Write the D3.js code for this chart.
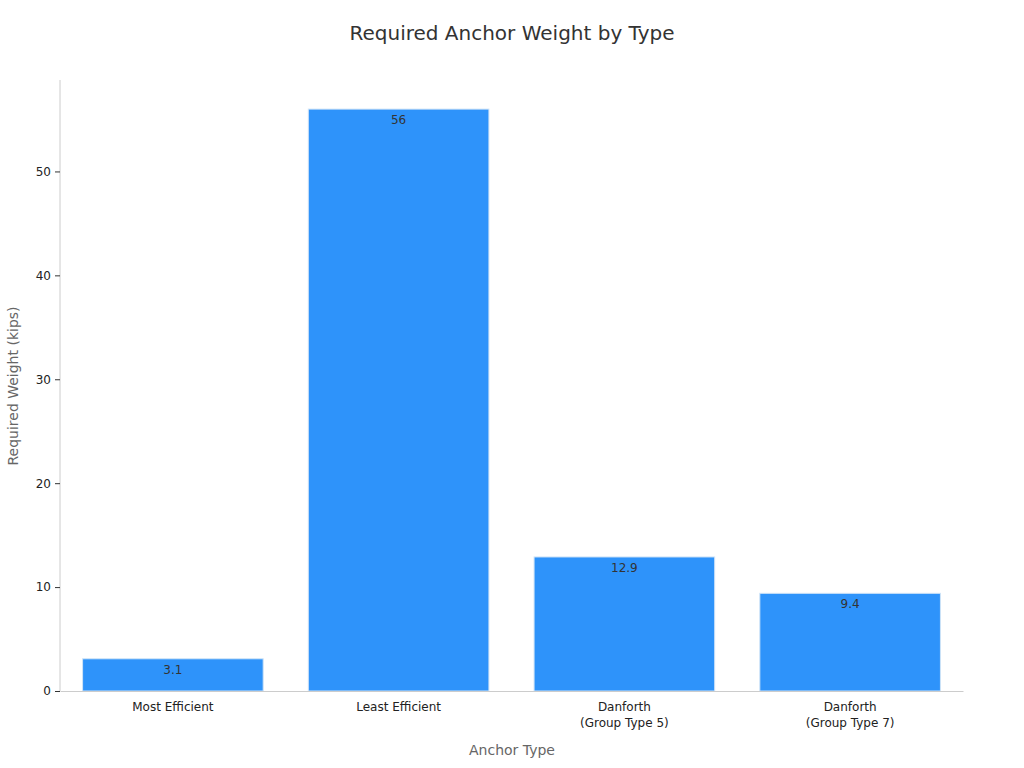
<!DOCTYPE html>
<html><head><meta charset="utf-8">
<script src="https://cdn.jsdelivr.net/npm/d3@7"></script>
<style>body{margin:0;background:#fff;font-family:"DejaVu Sans",sans-serif}</style>
</head><body><svg id="chart" width="1024" height="768"></svg>
<script>
var categories = ["Most Efficient", "Least Efficient", "Danforth\n(Group Type 5)", "Danforth\n(Group Type 7)"];
var weights = [3.1, 56, 12.9, 9.4];
var yTicks = [0, 10, 20, 30, 40, 50];

var svg = d3.select("#chart");
var m = {left: 60, right: 61, top: 80, bottom: 77};
var W = 1024, H = 768;

var x = d3.scaleBand().domain(categories).range([m.left, W - m.right]).paddingInner(0.2).paddingOuter(0.1);
var y = d3.scaleLinear().domain([0, 58.8]).range([H - m.bottom, m.top]);

svg.append("text").attr("x", 512).attr("y", 40).attr("text-anchor", "middle")
    .attr("font-size", 20).attr("fill", "#333").text("Required Anchor Weight by Type");

svg.selectAll("rect.bar").data(weights).join("rect")
    .attr("class", "bar")
    .attr("x", (d, i) => x(categories[i]))
    .attr("width", x.bandwidth())
    .attr("y", d => y(d))
    .attr("height", d => y(0) - y(d))
    .attr("fill", "#2E93FA").attr("stroke", "#cfe3f7").attr("stroke-width", 1);

svg.selectAll("text.val").data(weights).join("text")
    .attr("class", "val")
    .attr("x", (d, i) => x(categories[i]) + x.bandwidth() / 2)
    .attr("y", d => y(d) + 15)
    .attr("text-anchor", "middle").attr("font-size", 12).attr("fill", "#333")
    .text(d => d);

// y axis
var ya = svg.append("g").attr("transform", "translate(" + m.left + ",0)")
    .call(d3.axisLeft(y).tickValues(yTicks).tickSize(5).tickPadding(4));
ya.select(".domain").attr("stroke", "#ccc").attr("d", "M0," + y(0) + "V" + m.top);
ya.selectAll(".tick line").attr("stroke", "#333");
ya.selectAll(".tick text").attr("font-size", 12).attr("fill", "#222").attr("font-family", "DejaVu Sans");

// x axis
var xa = svg.append("g").attr("transform", "translate(0," + y(0) + ")")
    .call(d3.axisBottom(x).tickSize(0).tickPadding(10).tickFormat(""));
xa.select(".domain").attr("stroke", "#ccc");
xa.selectAll(".tick").each(function(d) {
    var t = d3.select(this).append("text").attr("fill", "#222").attr("font-size", 12)
        .attr("text-anchor", "middle").attr("font-family", "DejaVu Sans");
    d.split("\n").forEach((line, i) => {
        t.append("tspan").attr("x", 0).attr("y", 20 + i * 16).text(line);
    });
});

svg.append("text").attr("x", 512).attr("y", 755).attr("text-anchor", "middle")
    .attr("font-size", 14).attr("fill", "#666").text("Anchor Type");
svg.append("text").attr("transform", "translate(18,386) rotate(-90)").attr("text-anchor", "middle")
    .attr("font-size", 14).attr("fill", "#666").text("Required Weight (kips)");
</script></body></html>
